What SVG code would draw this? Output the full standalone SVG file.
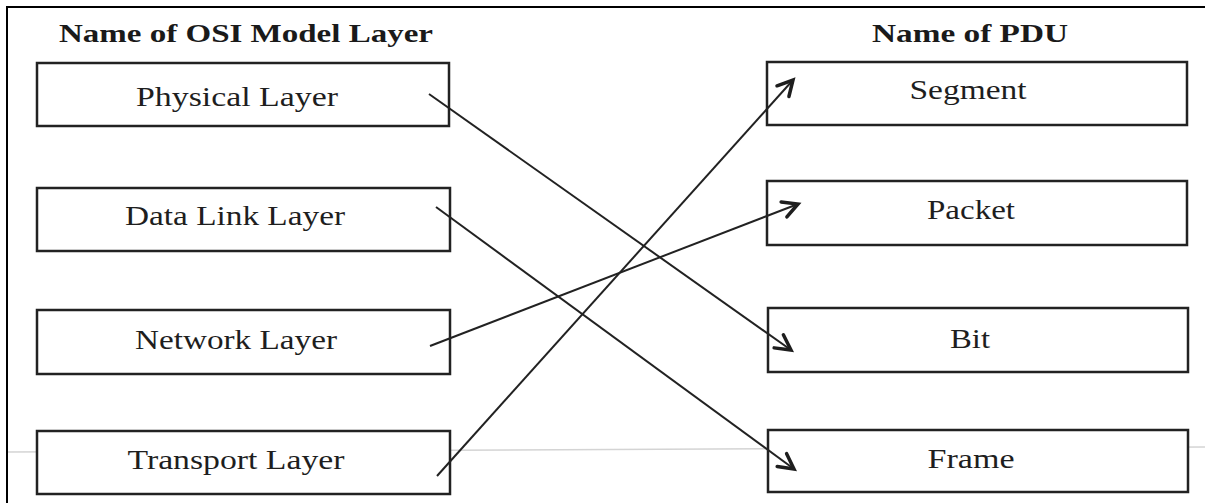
<svg xmlns="http://www.w3.org/2000/svg" width="1205" height="503" viewBox="0 0 1205 503">
  <style>
    .box { fill: #ffffff; stroke: #222222; stroke-width: 2.5; }
    .lbl { font-family: "Liberation Serif", "Times New Roman", serif; font-size: 27px; fill: #1e1e1e; }
    .hdr { font-family: "Liberation Serif", "Times New Roman", serif; font-size: 25px; font-weight: bold; fill: #1a1a1a; }
    .conn { stroke: #222222; stroke-width: 2; fill: none; }
    .frame { stroke: #000000; stroke-width: 2; fill: none; }
    .scan { stroke: #d4d4d4; stroke-width: 1.5; fill: none; }
  </style>
  <defs>
    <marker id="arrow" markerUnits="userSpaceOnUse" markerWidth="30" markerHeight="30" refX="0" refY="0" viewBox="-20 -15 25 30" orient="auto">
      <path d="M-15,-8 L0,0 L-15,8" fill="none" stroke="#1e1e1e" stroke-width="3.5" stroke-linecap="round" stroke-linejoin="miter"/>
    </marker>
  </defs>
  <rect x="0" y="0" width="1205" height="503" fill="#ffffff"/>
  <path class="frame" d="M7,503 L7,7 L1205,7"/>
  <path class="scan" d="M8,452 L1205,447"/>

  <g id="headers">
    <text class="hdr" x="246" y="42" text-anchor="middle" textLength="374" lengthAdjust="spacingAndGlyphs">Name of OSI Model Layer</text>
    <text class="hdr" x="970" y="42" text-anchor="middle" textLength="196" lengthAdjust="spacingAndGlyphs">Name of PDU</text>
  </g>

  <g id="physical-layer">
    <rect class="box" x="37" y="63" width="412" height="63"/>
    <text class="lbl" x="237" y="106" text-anchor="middle" textLength="202" lengthAdjust="spacingAndGlyphs">Physical Layer</text>
  </g>
  <g id="data-link-layer">
    <rect class="box" x="37" y="188" width="413" height="63"/>
    <text class="lbl" x="235" y="225" text-anchor="middle" textLength="220" lengthAdjust="spacingAndGlyphs">Data Link Layer</text>
  </g>
  <g id="network-layer">
    <rect class="box" x="37" y="310" width="413" height="64"/>
    <text class="lbl" x="236" y="349" text-anchor="middle" textLength="202" lengthAdjust="spacingAndGlyphs">Network Layer</text>
  </g>
  <g id="transport-layer">
    <rect class="box" x="37" y="431" width="413" height="63"/>
    <text class="lbl" x="236" y="469" text-anchor="middle" textLength="217" lengthAdjust="spacingAndGlyphs">Transport Layer</text>
  </g>

  <g id="segment">
    <rect class="box" x="767" y="62" width="420" height="63"/>
    <text class="lbl" x="968" y="99" text-anchor="middle" textLength="117" lengthAdjust="spacingAndGlyphs">Segment</text>
  </g>
  <g id="packet">
    <rect class="box" x="767" y="181" width="420" height="64"/>
    <text class="lbl" x="971" y="219" text-anchor="middle" textLength="88" lengthAdjust="spacingAndGlyphs">Packet</text>
  </g>
  <g id="bit">
    <rect class="box" x="768" y="308" width="420" height="64"/>
    <text class="lbl" x="970" y="348" text-anchor="middle" textLength="40" lengthAdjust="spacingAndGlyphs">Bit</text>
  </g>
  <g id="frame">
    <rect class="box" x="768" y="430" width="420" height="62"/>
    <text class="lbl" x="971" y="468" text-anchor="middle" textLength="87" lengthAdjust="spacingAndGlyphs">Frame</text>
  </g>

  <g id="connectors">
    <line class="conn" x1="429" y1="94" x2="791" y2="350" marker-end="url(#arrow)"/>
    <line class="conn" x1="436" y1="207" x2="794" y2="469" marker-end="url(#arrow)"/>
    <line class="conn" x1="430" y1="346" x2="798" y2="204" marker-end="url(#arrow)"/>
    <line class="conn" x1="437" y1="476" x2="793" y2="80" marker-end="url(#arrow)"/>
  </g>
</svg>
